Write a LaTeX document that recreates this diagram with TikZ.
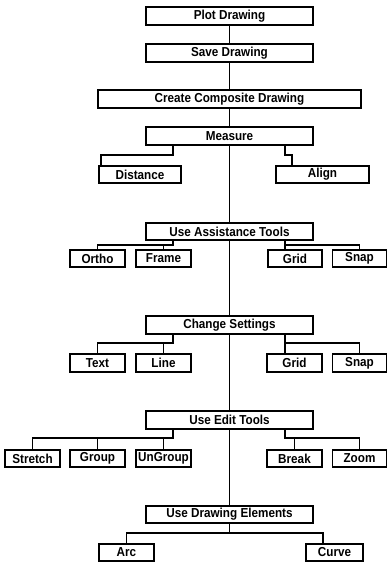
\documentclass[tikz,border=0pt]{standalone}
\usepackage{fontspec}
\setmainfont{Liberation Sans}
\newfontfamily\boxfont[FakeStretch=0.9]{Liberation Sans Bold}
\begin{document}
\begin{tikzpicture}[x=1pt,y=-1pt,
  box/.style={draw=black,fill=white,line width=1.7pt,inner sep=0pt,
    minimum height=#1,font=\boxfont\fontsize{13}{13}\selectfont},
  box/.default=17pt,
  conn/.style={draw=black,line width=1.6pt}]
\useasboundingbox (0,0) rectangle (388,562);
% boxes
\node[box=18pt,minimum width=167pt] (plot) at (229.5,16) {Plot Drawing};
\node[box=18pt,minimum width=167pt] (save) at (229.5,53) {Save Drawing};
\node[box=18pt,minimum width=263pt] (comp) at (229.5,99) {Create Composite Drawing};
\node[box=18pt,minimum width=167pt] (meas) at (229.5,136) {Measure};
\node[box,minimum width=82pt] (dist) at (140,174.5) {Distance};
\node[box,minimum width=93pt] (align) at (322.5,174.5) {Align};
\node[box,minimum width=167pt] (uat) at (229.5,231.5) {Use Assistance Tools};
\node[box,minimum width=55pt] (ortho) at (97.5,258.5) {Ortho};
\node[box,minimum width=55pt] (frame) at (163.5,258.5) {Frame};
\node[box,minimum width=54pt] (grid1) at (295,258.5) {Grid};
\node[box,minimum width=54pt] (snap1) at (359.5,258.5) {Snap};
\node[box=18pt,minimum width=167pt] (cs) at (229.5,325) {Change Settings};
\node[box=18pt,minimum width=55pt] (text) at (97.5,363) {Text};
\node[box=18pt,minimum width=55pt] (line) at (163.5,363) {Line};
\node[box=18pt,minimum width=55pt] (grid2) at (294.5,363) {Grid};
\node[box=18pt,minimum width=54pt] (snap2) at (359.5,363) {Snap};
\node[box=18pt,minimum width=167pt] (uet) at (229.5,420) {Use Edit Tools};
\node[box,minimum width=55pt] (stretch) at (32.5,458.5) {Stretch};
\node[box,minimum width=55pt] (group) at (97.5,458.5) {Group};
\node[box,minimum width=55pt] (ungroup) at (163.5,458.5) {UnGroup};
\node[box,minimum width=55pt] (break) at (294.5,458.5) {Break};
\node[box,minimum width=54pt] (zoom) at (359.5,458.5) {Zoom};
\node[box,minimum width=167pt] (ude) at (229.5,514.5) {Use Drawing Elements};
\node[box,minimum width=55pt] (arc) at (126.5,552.5) {Arc};
\node[box,minimum width=57pt] (curve) at (334.5,552.5) {Curve};
% trunk
\draw[conn] (plot) -- (save);
\draw[conn] (save) -- (comp);
\draw[conn] (comp) -- (meas);
\draw[conn] (meas) -- (uat);
\draw[conn] (uat) -- (cs);
\draw[conn] (cs) -- (uet);
\draw[conn] (uet) -- (ude);
% measure
\draw[conn] ([xshift=-56.5pt]meas.south) |- ([xshift=-39pt,yshift=10pt]dist.north) -- ([xshift=-39pt]dist.north);
\draw[conn] ([xshift=55.5pt]meas.south) |- ([xshift=-30.5pt,yshift=10pt]align.north) -- ([xshift=-30.5pt]align.north);
% assistance tools
\draw[conn] ([xshift=-56.5pt]uat.south) |- ([yshift=4pt]ortho.north) -- (ortho.north);
\draw[conn] ([yshift=4pt]frame.north) -- (frame.north);
\draw[conn] ([xshift=55.5pt]uat.south) |- ([yshift=4pt]snap1.north) -- (snap1.north);
\draw[conn] ([xshift=-10pt,yshift=4pt]grid1.north) -- ([xshift=-10pt]grid1.north);
% change settings
\draw[conn] ([xshift=-56.5pt]cs.south) |- ([yshift=10pt]text.north) -- (text.north);
\draw[conn] ([yshift=10pt]line.north) -- (line.north);
\draw[conn] ([xshift=55.5pt]cs.south) |- ([yshift=10pt]snap2.north) -- (snap2.north);
\draw[conn] ([xshift=-9.5pt,yshift=10pt]grid2.north) -- ([xshift=-9.5pt]grid2.north);
% edit tools
\draw[conn] ([xshift=-56.5pt]uet.south) |- ([yshift=11pt]stretch.north) -- (stretch.north);
\draw[conn] ([yshift=11pt]group.north) -- (group.north);
\draw[conn] ([yshift=11pt]ungroup.north) -- (ungroup.north);
\draw[conn] ([xshift=55.5pt]uet.south) |- ([yshift=11pt]zoom.north) -- (zoom.north);
\draw[conn] ([yshift=11pt]break.north) -- (break.north);
% drawing elements
\draw[conn] (ude.south) |- ([yshift=10pt]arc.north) -- (arc.north);
\draw[conn] (ude.south) |- ([xshift=-11.5pt,yshift=10pt]curve.north) -- ([xshift=-11.5pt]curve.north);
\end{tikzpicture}
\end{document}
